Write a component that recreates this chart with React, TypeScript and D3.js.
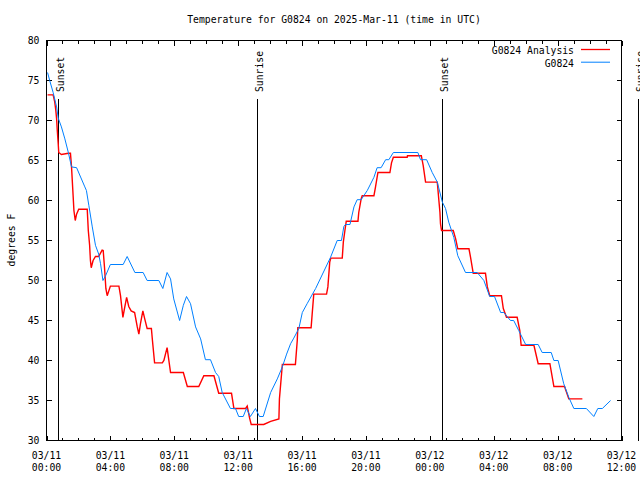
import React from "react";
import * as d3 from "d3";

const TITLE = "Temperature for G0824 on 2025-Mar-11 (time in UTC)";
const Y_LABEL = "degrees F";

// minutes since 2025-03-11 00:00 UTC
const analysisTimes = [4, 25, 31, 35, 38, 40, 44, 46, 56, 82, 90, 94, 100, 103, 108, 113, 121, 153, 157, 162, 165, 168, 175, 184, 196, 209, 213, 218, 223, 228, 240, 272, 278, 287, 293, 301, 309, 318, 331, 341, 347, 353, 362, 369, 378, 394, 398, 406, 435, 441, 453, 466, 514, 529, 572, 591, 629, 647, 695, 704, 748, 754, 763, 769, 816, 842, 873, 875, 886, 935, 942, 944, 994, 998, 1004, 1052, 1057, 1064, 1068, 1111, 1115, 1121, 1126, 1170, 1173, 1182, 1186, 1230, 1236, 1245, 1290, 1296, 1303, 1355, 1356, 1408, 1415, 1424, 1468, 1474, 1478, 1480, 1484, 1528, 1537, 1545, 1587, 1593, 1603, 1649, 1656, 1665, 1709, 1716, 1728, 1768, 1778, 1783, 1831, 1847, 1891, 1906, 1946, 1962, 2013];
const analysisTemps = [73.2, 73.2, 72.3, 71.25, 70.2, 69.0, 67.1, 66.0, 65.75, 65.9, 65.9, 64.2, 60.6, 58.75, 57.5, 58.3, 58.9, 58.9, 56.25, 54.4, 52.5, 51.6, 52.5, 53.0, 53.0, 53.8, 53.75, 51.6, 49.0, 48.1, 49.3, 49.3, 48.1, 45.4, 46.5, 47.9, 46.75, 46.2, 46.0, 44.2, 43.3, 44.6, 46.2, 45.2, 44.0, 44.0, 42.5, 39.7, 39.7, 40.0, 41.6, 38.5, 38.5, 36.75, 36.75, 38.1, 38.1, 35.9, 35.9, 34.0, 34.0, 34.3, 32.8, 32.0, 32.0, 32.4, 32.7, 35.2, 39.5, 39.5, 42.5, 44.1, 44.1, 45.8, 48.3, 48.3, 49.2, 52.3, 52.8, 52.8, 54.8, 56.25, 57.4, 57.4, 58.5, 60.2, 60.6, 60.6, 61.7, 63.5, 63.5, 64.7, 65.4, 65.4, 65.6, 65.6, 64.4, 62.3, 62.3, 60.0, 58.5, 57.1, 56.25, 56.25, 55.2, 53.96, 53.96, 52.9, 50.9, 50.9, 49.2, 48.1, 48.1, 46.5, 45.4, 45.4, 43.75, 41.9, 41.9, 39.6, 39.6, 36.75, 36.75, 35.2, 35.2];

const obsTimes = [4, 12, 25, 38, 44, 56, 69, 82, 94, 113, 144, 150, 159, 172, 184, 196, 203, 212, 222, 240, 288, 303, 332, 363, 378, 422, 437, 453, 466, 478, 500, 514, 526, 541, 560, 579, 597, 616, 635, 647, 660, 691, 710, 722, 739, 751, 766, 785, 800, 814, 842, 867, 886, 902, 917, 929, 948, 961, 979, 1011, 1067, 1092, 1108, 1117, 1123, 1140, 1155, 1167, 1182, 1205, 1230, 1242, 1257, 1274, 1286, 1303, 1395, 1405, 1428, 1449, 1468, 1487, 1499, 1511, 1530, 1545, 1574, 1618, 1643, 1665, 1683, 1706, 1718, 1743, 1755, 1774, 1800, 1847, 1862, 1896, 1906, 1922, 1943, 1962, 1981, 2028, 2056, 2071, 2088, 2119];
const obsTemps = [76.0, 75.0, 73.5, 71.7, 70.3, 69.2, 67.7, 66.0, 64.2, 64.1, 61.7, 61.25, 59.4, 56.7, 54.4, 53.3, 52.1, 50.0, 50.6, 52.0, 52.0, 53.0, 51.0, 51.0, 50.0, 50.0, 49.0, 51.0, 50.2, 47.7, 45.0, 46.9, 48.0, 47.1, 44.2, 42.7, 40.1, 40.1, 38.5, 38.0, 36.0, 34.0, 34.0, 33.0, 33.0, 34.0, 33.0, 34.0, 33.0, 33.0, 36.0, 37.7, 39.2, 40.8, 42.1, 42.8, 44.0, 46.0, 47.1, 49.0, 52.9, 55.0, 55.0, 56.75, 57.0, 57.0, 59.2, 60.1, 60.1, 61.25, 62.9, 64.1, 64.1, 65.1, 65.1, 66.0, 66.0, 65.1, 65.1, 63.5, 62.3, 59.8, 59.0, 57.3, 55.4, 53.1, 51.0, 51.0, 50.0, 48.0, 48.0, 46.0, 46.0, 45.0, 45.0, 43.75, 42.0, 42.0, 41.0, 41.0, 40.0, 40.0, 37.1, 35.4, 34.0, 34.0, 33.0, 34.0, 34.0, 35.0];

const seriesNames = ["G0824 Analysis", "G0824"];
const seriesColors = ["#ff0000", "#0080ff"];

const eventLabels = ["Sunset", "Sunrise", "Sunset", "Sunrise"];
const eventTimes = [44, 790, 1485, 2222];

const xTickMinutes = [0, 240, 480, 720, 960, 1200, 1440, 1680, 1920, 2160];
const xTickDates = ["03/11", "03/11", "03/11", "03/11", "03/11", "03/11", "03/12", "03/12", "03/12", "03/12"];
const xTickTimes = ["00:00", "04:00", "08:00", "12:00", "16:00", "20:00", "00:00", "04:00", "08:00", "12:00"];
const yTicks = [30, 35, 40, 45, 50, 55, 60, 65, 70, 75, 80];

const W = 640, H = 480;
const L = 46.5, R = 621.5, T = 40.5, B = 440.5;
const FONT = "'DejaVu Sans Mono', 'Liberation Mono', monospace";
const FS = 9.75;

export default function App() {
  const x = d3.scaleLinear().domain([0, 2160]).range([L, R]);
  const y = d3.scaleLinear().domain([30, 80]).range([B, T]);
  const minor = d3.range(0, 2161, 60);

  const line = d3.line<[number, number]>().x(d => x(d[0])).y(d => y(d[1]));
  const red = line(analysisTimes.map((t, i) => [t, analysisTemps[i]]));
  const blue = line(obsTimes.map((t, i) => [t, obsTemps[i]]));

  return (
    <svg width={W} height={H} style={{ position: "absolute", left: 0, top: 0, background: "#fff" }}
      fontFamily={FONT} fontSize={FS}>
      <rect x={0} y={0} width={W} height={H} fill="#fff" />
      <text x={(L + R) / 2} y={23} textAnchor="middle">{TITLE}</text>
      {/* ticks */}
      <g stroke="#000" strokeWidth={1} shapeRendering="crispEdges">
        {minor.map(m => {
          const major = m % 240 === 0;
          const len = major ? 5 : 3;
          return (
            <g key={m}>
              <line x1={Math.round(x(m)) + 0.5} x2={Math.round(x(m)) + 0.5} y1={B} y2={B - len} />
              <line x1={Math.round(x(m)) + 0.5} x2={Math.round(x(m)) + 0.5} y1={T} y2={T + len} />
            </g>
          );
        })}
        {yTicks.map(v => (
          <g key={v}>
            <line x1={L} x2={L + 5} y1={y(v)} y2={y(v)} />
            <line x1={R} x2={R - 5} y1={y(v)} y2={y(v)} />
          </g>
        ))}
      </g>
      {yTicks.map(v => (
        <text key={v} x={39.5} y={y(v) + 3.5} textAnchor="end">{v}</text>
      ))}
      {xTickMinutes.map((m, i) => (
        <g key={m}>
          <text x={x(m)} y={458.5} textAnchor="middle">{xTickDates[i]}</text>
          <text x={x(m)} y={471} textAnchor="middle">{xTickTimes[i]}</text>
        </g>
      ))}
      <text transform={`translate(14.5,240) rotate(-90)`} textAnchor="middle">{Y_LABEL}</text>
      {/* events */}
      {eventTimes.map((t, i) => {
        const ex = Math.round(x(t)) + 0.5;
        return (
          <g key={i}>
            <line x1={ex} x2={ex} y1={99} y2={B} stroke="#000" strokeWidth={1} shapeRendering="crispEdges" />
            <text transform={`translate(${ex + 5},92) rotate(-90)`} textAnchor="start">{eventLabels[i]}</text>
          </g>
        );
      })}
      {/* series */}
      <path d={red || ""} fill="none" stroke={seriesColors[0]} strokeWidth={1.4} strokeLinejoin="miter" />
      <path d={blue || ""} fill="none" stroke={seriesColors[1]} strokeWidth={1} />
      {/* frame */}
      <rect x={L} y={T} width={R - L} height={B - T} fill="none" stroke="#000" strokeWidth={1} shapeRendering="crispEdges" />
      {/* legend */}
      {seriesNames.map((n, i) => (
        <g key={n}>
          <text x={574} y={54 + i * 12.7} textAnchor="end">{n}</text>
          <line x1={581} x2={610} y1={49.5 + i * 12.7} y2={49.5 + i * 12.7} stroke={seriesColors[i]} strokeWidth={i === 0 ? 1.3 : 1} />
        </g>
      ))}
    </svg>
  );
}
